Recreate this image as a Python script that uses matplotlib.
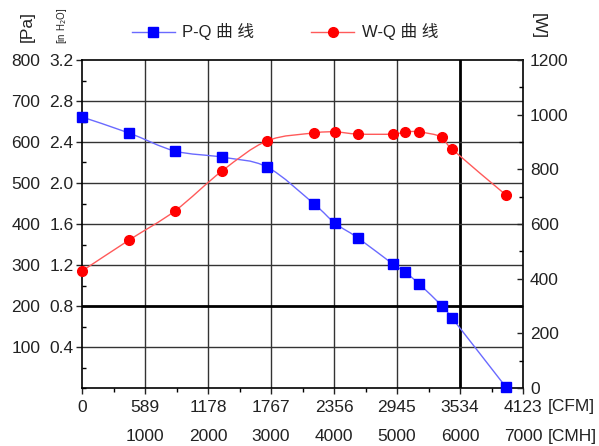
import matplotlib
matplotlib.use("Agg")
import matplotlib.pyplot as plt
import numpy as np
from matplotlib.path import Path
from matplotlib.patches import PathPatch
from matplotlib.lines import Line2D
from matplotlib.ticker import MultipleLocator

plt.rcParams['font.family'] = ['Liberation Sans', 'Noto Sans CJK SC', 'DejaVu Sans']

# ---- data ----
cfm_ticks = [0, 589, 1178, 1767, 2356, 2945, 3534, 4123]
cmh_ticks = [1000, 2000, 3000, 4000, 5000, 6000, 7000]
pa_ticks = [100, 200, 300, 400, 500, 600, 700, 800]
inh2o_ticks = [0.4, 0.8, 1.2, 1.6, 2.0, 2.4, 2.8, 3.2]
w_ticks = [0, 200, 400, 600, 800, 1000, 1200]

flow_cfm = [0, 439, 869, 1309, 1730, 2169, 2365, 2580, 2908, 3020, 3151, 3366, 3459, 3964]
pressure_pa = [661, 622, 578, 563, 539, 449, 402, 366, 302, 283, 254, 200, 171, 2]
power_w = [428, 541, 648, 794, 904, 933, 937, 929, 929, 937, 937, 918, 874, 706]

CFM_MAX = 4123
CMH_MAX = 7000


def smooth_path(xs, ys, tension=1.0 / 6):
    xs = np.asarray(xs, float)
    ys = np.asarray(ys, float)
    n = len(xs)
    verts = [(xs[0], ys[0])]
    codes = [Path.MOVETO]
    for i in range(n - 1):
        p0 = np.array([xs[max(i - 1, 0)], ys[max(i - 1, 0)]])
        p1 = np.array([xs[i], ys[i]])
        p2 = np.array([xs[i + 1], ys[i + 1]])
        p3 = np.array([xs[min(i + 2, n - 1)], ys[min(i + 2, n - 1)]])
        c1 = p1 + (p2 - p0) * tension
        c2 = p2 - (p3 - p1) * tension
        verts += [tuple(c1), tuple(c2), tuple(p2)]
        codes += [Path.CURVE4, Path.CURVE4, Path.CURVE4]
    return Path(verts, codes)


fig = plt.figure(figsize=(5.99, 4.46), dpi=100)
ax = fig.add_axes([82 / 599, 58 / 446, 441 / 599, 328 / 446])

# host axis: CFM vs inH2O
ax.set_xlim(0, CFM_MAX)
ax.set_ylim(0, 3.2)
ax.set_xticks(cfm_ticks)
ax.set_xticklabels([str(v) for v in cfm_ticks])
ax.xaxis.set_minor_locator(MultipleLocator(589 / 2))
ax.set_yticks(inh2o_ticks)
ax.set_yticklabels([f"{v:.1f}" for v in inh2o_ticks])
ax.yaxis.set_minor_locator(MultipleLocator(0.2))
ax.tick_params(axis='both', which='major', labelsize=12.5, colors='#222222', length=4, width=1)
ax.tick_params(axis='x', which='major', direction='out', pad=5)
ax.tick_params(axis='x', which='minor', direction='out', length=3, width=1)
ax.tick_params(axis='y', which='major', direction='out', pad=2)
ax.tick_params(axis='y', which='minor', direction='in', length=3, width=1)

# grid
for v in cfm_ticks[1:-1]:
    lw = 2.0 if v == 3534 else 1.0
    col = 'black' if v == 3534 else '#333333'
    ax.axvline(v, color=col, lw=lw, zorder=1)
for v in inh2o_ticks[:-1]:
    lw = 2.0 if abs(v - 0.8) < 1e-9 else 1.0
    col = 'black' if abs(v - 0.8) < 1e-9 else '#333333'
    ax.axhline(v, color=col, lw=lw, zorder=1)

for s in ax.spines.values():
    s.set_linewidth(1.2)
    s.set_color('black')

# CMH labels second row
for v in cmh_ticks:
    ax.text(v * CFM_MAX / CMH_MAX, -0.148, str(v), transform=ax.get_xaxis_transform(),
            ha='center', va='center', fontsize=12.5, color='#222222')
ax.text(1.055, -0.055, '[CFM]', transform=ax.transAxes, ha='left', va='center',
        fontsize=12.5, color='#222222')
ax.text(1.055, -0.148, '[CMH]', transform=ax.transAxes, ha='left', va='center',
        fontsize=12.5, color='#222222')

# Pa axis on the left
ax_pa = ax.twinx()
ax_pa.yaxis.tick_left()
ax_pa.set_ylim(0, 800)
ax_pa.set_yticks(pa_ticks)
ax_pa.set_yticklabels([str(v) for v in pa_ticks])
ax_pa.tick_params(axis='y', which='major', length=0, pad=30, labelsize=12.5, colors='#222222')
ax_pa.tick_params(axis='y', which='minor', length=0)
for s in ax_pa.spines.values():
    s.set_visible(False)

# W axis on the right
ax_w = ax.twinx()
ax_w.set_ylim(0, 1200)
ax_w.set_yticks(w_ticks)
ax_w.set_yticklabels([str(v) for v in w_ticks])
ax_w.yaxis.set_minor_locator(MultipleLocator(100))
ax_w.tick_params(axis='y', which='major', direction='in', length=4, width=1, pad=5,
                 labelsize=12.5, colors='#222222')
ax_w.tick_params(axis='y', which='minor', direction='in', length=3, width=1)
for s in ax_w.spines.values():
    s.set_visible(False)

# curves
ax_pa.add_patch(PathPatch(smooth_path(flow_cfm, pressure_pa), fill=False,
                          edgecolor='#6a6aff', lw=1.0, zorder=3, clip_on=False))
ax_pa.plot(flow_cfm, pressure_pa, ls='none', marker='s', ms=6.5, color='#0000ff',
           zorder=4, clip_on=False)
ax_w.add_patch(PathPatch(smooth_path(flow_cfm, power_w), fill=False,
                         edgecolor='#ff5a5a', lw=1.0, zorder=3, clip_on=False))
ax_w.plot(flow_cfm, power_w, ls='none', marker='o', ms=7, color='#ff0000',
          zorder=4, clip_on=False)

# axis unit labels
fig.text(27 / 599, 1 - 26 / 446, '[Pa]', rotation=90, ha='center', va='center',
         fontsize=12.5, color='#222222')
fig.text(62 / 599, 1 - 26 / 446, r'[in H$_2$O]', rotation=90, ha='center', va='center',
         fontsize=7, color='#222222')
fig.text(538 / 599, 1 - 26 / 446, '[W]', rotation=-90, ha='center', va='center',
         fontsize=12.5, color='#222222')

# legend
handles = [
    Line2D([], [], color='#6a6aff', lw=1.0, marker='s', ms=6.5, mfc='#0000ff', mec='#0000ff'),
    Line2D([], [], color='#ff5a5a', lw=1.0, marker='o', ms=7, mfc='#ff0000', mec='#ff0000'),
]
fig.legend(handles, ['P-Q 曲 线', 'W-Q 曲 线'], ncol=2, frameon=False,
           loc='center', bbox_to_anchor=(285 / 599, 1 - 32 / 446),
           fontsize=12, handlelength=2.6, handletextpad=0.45, columnspacing=3.4,
           labelcolor='#222222')

fig.savefig('out.png', dpi=100)
